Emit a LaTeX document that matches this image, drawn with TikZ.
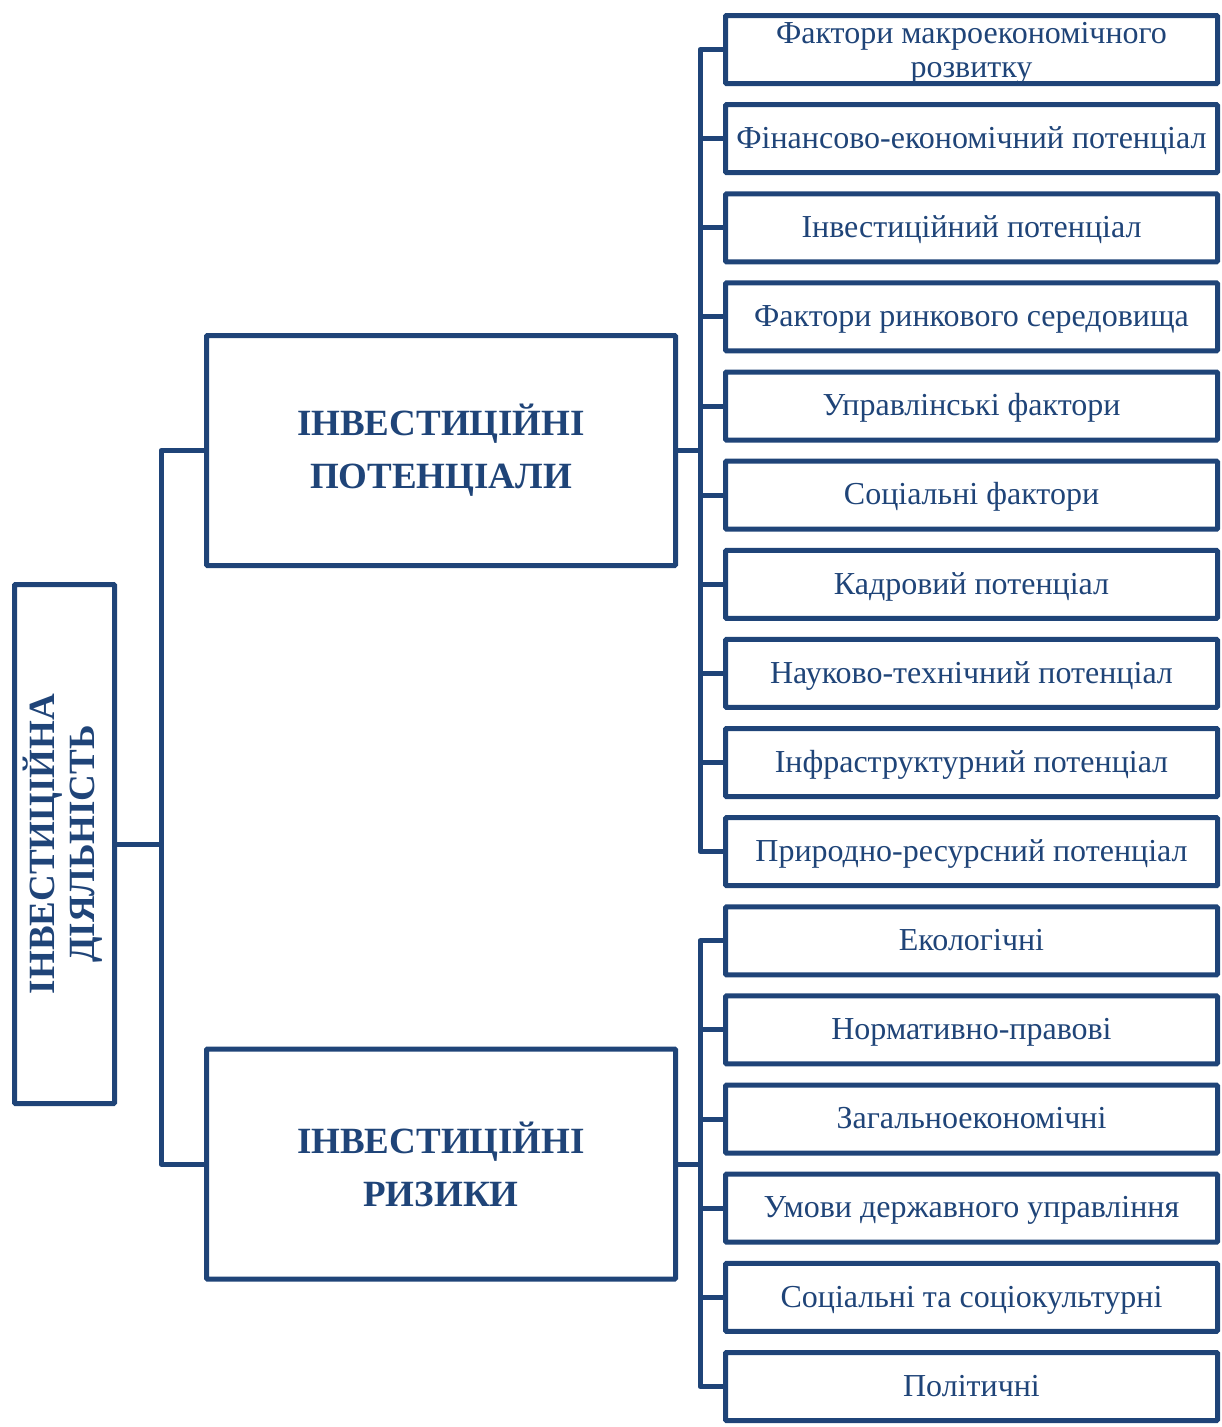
\documentclass[tikz,border=0pt]{standalone}
\usepackage{fontspec}
\setmainfont{Liberation Serif}
\usepackage{graphicx}
\usepackage{tikz}
\pgfdeclarelayer{bg}
\pgfsetlayers{bg,main}
\definecolor{navy}{RGB}{31,68,120}
\tikzset{
    box/.style={rectangle, draw=navy, line width=5pt, text=navy, inner sep=0pt, align=center, rounded corners=1pt},
    factor/.style={box, minimum width=492pt, minimum height=68pt, text height=25pt, text depth=5.6pt, font=\fontsize{32}{34}\selectfont},
    branch/.style={box, minimum width=469pt, minimum height=230pt, font=\fontsize{37}{53}\selectfont\bfseries},
    root/.style={box, minimum width=100pt, minimum height=519pt, font=\fontsize{37}{40}\selectfont\bfseries}
}
\tikzset{link/.style={draw=navy, line width=5pt, line join=round}}

\begin{document}
\begin{tikzpicture}[x=1pt, y=-1pt]
        \useasboundingbox (0,0) rectangle (1222,1427);
        \node (act) [root] at (64.5, 844) {\rotatebox{90}{\begin{tabular}{@{}c@{}}ІНВЕСТИЦІЙНА\\ДІЯЛЬНІСТЬ\end{tabular}}};
        \node (pot) [branch] at (441, 450.5) {ІНВЕСТИЦІЙНІ\\ПОТЕНЦІАЛИ};
        \node (risk) [branch] at (441, 1164) {ІНВЕСТИЦІЙНІ\\РИЗИКИ};
        \node (f1) [factor, text height=61.6pt] at (971.5, 49.5) {Фактори макроекономічного\\розвитку};
        \node (f2) [factor] at (971.5, 138.6) {Фінансово-економічний потенціал};
        \node (f3) [factor] at (971.5, 227.8) {Інвестиційний потенціал};
        \node (f4) [factor] at (971.5, 316.9) {Фактори ринкового середовища};
        \node (f5) [factor] at (971.5, 406.0) {Управлінські фактори};
        \node (f6) [factor] at (971.5, 495.2) {Соціальні фактори};
        \node (f7) [factor] at (971.5, 584.3) {Кадровий потенціал};
        \node (f8) [factor] at (971.5, 673.4) {Науково-технічний потенціал};
        \node (f9) [factor] at (971.5, 762.5) {Інфраструктурний потенціал};
        \node (f10) [factor] at (971.5, 851.7) {Природно-ресурсний потенціал};
        \node (r1) [factor] at (971.5, 940.8) {Екологічні};
        \node (r2) [factor] at (971.5, 1029.9) {Нормативно-правові};
        \node (r3) [factor] at (971.5, 1119.1) {Загальноекономічні};
        \node (r4) [factor] at (971.5, 1208.2) {Умови державного управління};
        \node (r5) [factor] at (971.5, 1297.3) {Соціальні та соціокультурні};
        \node (r6) [factor] at (971.5, 1386.5) {Політичні};
        \coordinate (ja) at (161, 844);
        \coordinate (jp) at (700, 450.5);
        \coordinate (jr) at (700, 1164);
        \begin{pgfonlayer}{bg}
                \draw [link] (act.east) -- (ja);
                \draw [link] (ja) |- (pot.west);
                \draw [link] (ja) |- (risk.west);
                \draw [link] (pot.east) -- (jp);
                \draw [link] (jp) |- (f1.west);
                \draw [link] (jp) |- (f2.west);
                \draw [link] (jp) |- (f3.west);
                \draw [link] (jp) |- (f4.west);
                \draw [link] (jp) |- (f5.west);
                \draw [link] (jp) |- (f6.west);
                \draw [link] (jp) |- (f7.west);
                \draw [link] (jp) |- (f8.west);
                \draw [link] (jp) |- (f9.west);
                \draw [link] (jp) |- (f10.west);
                \draw [link] (risk.east) -- (jr);
                \draw [link] (jr) |- (r1.west);
                \draw [link] (jr) |- (r2.west);
                \draw [link] (jr) |- (r3.west);
                \draw [link] (jr) |- (r4.west);
                \draw [link] (jr) |- (r5.west);
                \draw [link] (jr) |- (r6.west);
        \end{pgfonlayer}
\end{tikzpicture}
\end{document}
